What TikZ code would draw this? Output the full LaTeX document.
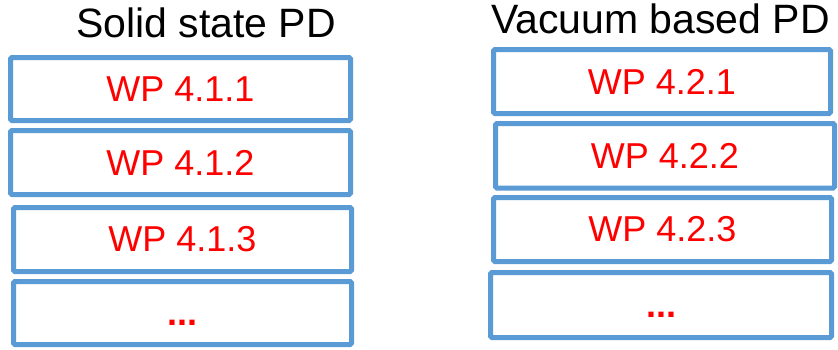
\documentclass[tikz,border=0pt]{standalone}
\usepackage{fontspec}
\setmainfont{Liberation Sans}
\definecolor{boxblue}{RGB}{91,155,213}
\definecolor{wpred}{RGB}{255,0,0}
\begin{document}
\begin{tikzpicture}[x=1pt,y=-1pt,
  wpbox/.style={draw=boxblue, line width=5pt, rounded corners=1.5pt, fill=white,
    inner sep=0pt, text=wpred, font=\fontsize{36}{36}\selectfont},
  title/.style={anchor=base, inner sep=0pt, text=black, font=\fontsize{41}{41}\selectfont}]
\useasboundingbox (0,0) rectangle (838,349);
% titles
\node[title] (t1) at (206,37) {Solid state PD};
\node[title] (t2) at (660.5,33) {Vacuum based PD};
% left column
\node[wpbox, minimum width=340pt, minimum height=63pt] (l1) at (180.5,89) {WP 4.1.1};
\node[wpbox, minimum width=340pt, minimum height=64pt] (l2) at (180.5,162.5) {WP 4.1.2};
\node[wpbox, minimum width=338pt, minimum height=64pt] (l3) at (182.5,239.5) {WP 4.1.3};
\node[wpbox, minimum width=338pt, minimum height=63pt] (l4) at (182.5,313) {\vphantom{WP}\textbf{...}};
% right column
\node[wpbox, minimum width=337pt, minimum height=64pt] (r1) at (662,81.5) {WP 4.2.1};
\node[wpbox, minimum width=339pt, minimum height=64.5pt] (r2) at (665,155.75) {WP 4.2.2};
\node[wpbox, minimum width=338pt, minimum height=64pt] (r3) at (662.5,229.5) {WP 4.2.3};
\node[wpbox, minimum width=341pt, minimum height=65pt] (r4) at (661,305) {\vphantom{WP}\textbf{...}};
\end{tikzpicture}
\end{document}
